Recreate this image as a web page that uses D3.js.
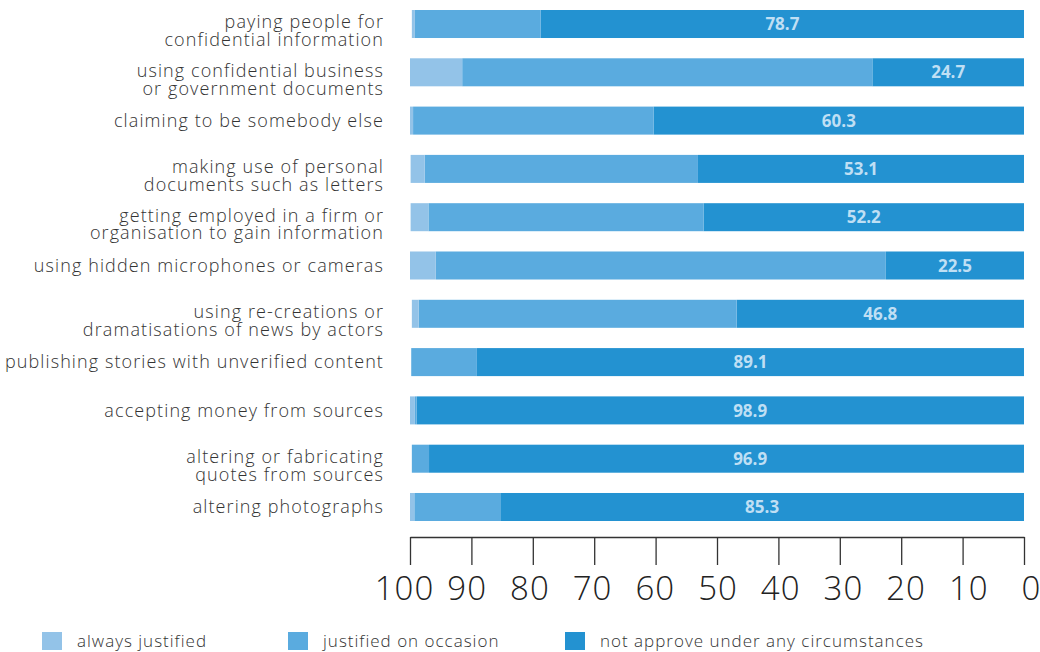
<!DOCTYPE html>
<html>
<head>
<meta charset="utf-8">
<script src="https://cdn.jsdelivr.net/npm/d3@7"></script>
<style>
  html, body { margin: 0; padding: 0; background: #fff; }
  svg { display: block; font-family: "Open Sans", sans-serif; }
</style>
</head>
<body>
<svg id="chart" width="1040" height="652"></svg>
<script>
// Practices, each label split into its display lines
const categories = [
  ["paying people for", "confidential information"],
  ["using confidential business", "or government documents"],
  ["claiming to be somebody else"],
  ["making use of personal", "documents such as letters"],
  ["getting employed in a firm or", "organisation to gain information"],
  ["using hidden microphones or cameras"],
  ["using re-creations or", "dramatisations of news by actors"],
  ["publishing stories with unverified content"],
  ["accepting money from sources"],
  ["altering or fabricating", "quotes from sources"],
  ["altering photographs"]
];

// Share of respondents (%) per answer
const alwaysJustified   = [0.5, 8.5, 0.5, 2.3, 2.9, 4.2, 1.1, 0.0, 0.8, 0.0, 0.7];
const onOccasion        = [20.5, 66.8, 39.2, 44.5, 44.8, 73.3, 51.8, 10.7, 0.3, 2.8, 14.0];
const notApprove        = [78.7, 24.7, 60.3, 53.1, 52.2, 22.5, 46.8, 89.1, 98.9, 96.9, 85.3];

const seriesNames  = ["always justified", "justified on occasion", "not approve under any circumstances"];
const seriesColors = ["#93c3e8", "#5aabdf", "#2392d1"];
const xTicks = [100, 90, 80, 70, 60, 50, 40, 30, 20, 10, 0];

const svg = d3.select("#chart");

// Reversed percentage axis: 100 on the left, 0 on the right
const x = d3.scaleLinear().domain([100, 0]).range([410, 1024]);
// Tick numbers sit on a slightly wider spread than the tick marks
const xLabel = d3.scaleLinear().domain([100, 0]).range([404, 1031]);
const y = d3.scaleBand()
  .domain(d3.range(categories.length))
  .range([10, 521])
  .paddingInner(0.42)
  .paddingOuter(0);

// Stack from the right: "not approve" starts at 0, then occasion, then always
const rows = categories.map((c, i) => ({
  i,
  notApprove: notApprove[i],
  onOccasion: onOccasion[i],
  alwaysJustified: alwaysJustified[i]
}));
const keys = ["notApprove", "onOccasion", "alwaysJustified"];
const keyColor = { notApprove: seriesColors[2], onOccasion: seriesColors[1], alwaysJustified: seriesColors[0] };
const stacked = d3.stack().keys(keys)(rows);

svg.append("g")
  .selectAll("g")
  .data(stacked)
  .join("g")
  .attr("fill", d => keyColor[d.key])
  .selectAll("rect")
  .data(d => d)
  .join("rect")
  .attr("x", d => x(d[1]))
  .attr("width", d => Math.max(0, x(d[0]) - x(d[1])))
  .attr("y", d => y(d.data.i))
  .attr("height", y.bandwidth());

// Value labels inside the "not approve" segment
svg.append("g")
  .selectAll("text")
  .data(rows)
  .join("text")
  .attr("x", d => x(Math.min(d.notApprove / 2, 44.6)))
  .attr("y", d => y(d.i) + y.bandwidth() / 2)
  .attr("dy", "0.36em")
  .attr("text-anchor", "middle")
  .attr("font-size", 17)
  .attr("font-weight", 700)
  .attr("fill", "#bfdff4")
  .text(d => d3.format(".1f")(d.notApprove));

// Category labels, right aligned beside the bars
const labels = svg.append("g")
  .selectAll("text")
  .data(categories)
  .join("text")
  .attr("text-anchor", "end")
  .attr("font-size", 18)
  .attr("font-weight", 300)
  .attr("letter-spacing", 1.1)
  .attr("fill", "#333")
  .attr("transform", (d, i) => `translate(384,${y(i) + y.bandwidth() / 2})`);
labels.selectAll("tspan")
  .data(d => d.map((t, k) => ({ t, k, n: d.length })))
  .join("tspan")
  .attr("x", 0)
  .attr("y", d => d.n === 1 ? 0 : (d.k === 0 ? -2 : 16))
  .attr("dy", "0.35em")
  .text(d => d.t);

// Bottom axis with ticks hanging from the axis line
const axis = d3.axisBottom(x).tickValues(xTicks).tickSize(0).tickPadding(0).tickFormat(d3.format("d"));
const gx = svg.append("g").attr("transform", "translate(0,537)").call(axis);
gx.select(".domain").attr("stroke", "#333").attr("stroke-width", 1.3);
gx.selectAll(".tick line")
  .attr("y2", 28)
  .attr("stroke", "#333")
  .attr("stroke-width", 1.3);
gx.selectAll(".tick text")
  .attr("x", d => xLabel(d) - x(d))
  .attr("y", 51)
  .attr("dy", "0.35em")
  .attr("font-family", "'Open Sans', sans-serif")
  .attr("font-size", 33)
  .attr("font-weight", 300)
  .attr("letter-spacing", 1)
  .attr("fill", "#222");

// Legend
const legendX = [42, 288, 565];
const legend = svg.append("g")
  .selectAll("g")
  .data(seriesNames)
  .join("g")
  .attr("transform", (d, i) => `translate(${legendX[i]},632)`);
legend.append("rect")
  .attr("width", 20)
  .attr("height", 18)
  .attr("fill", (d, i) => seriesColors[i]);
legend.append("text")
  .attr("x", 35)
  .attr("y", 9)
  .attr("dy", "0.35em")
  .attr("font-size", 17)
  .attr("font-weight", 300)
  .attr("letter-spacing", 1)
  .attr("fill", "#333")
  .text(d => d);
</script>
</body>
</html>
